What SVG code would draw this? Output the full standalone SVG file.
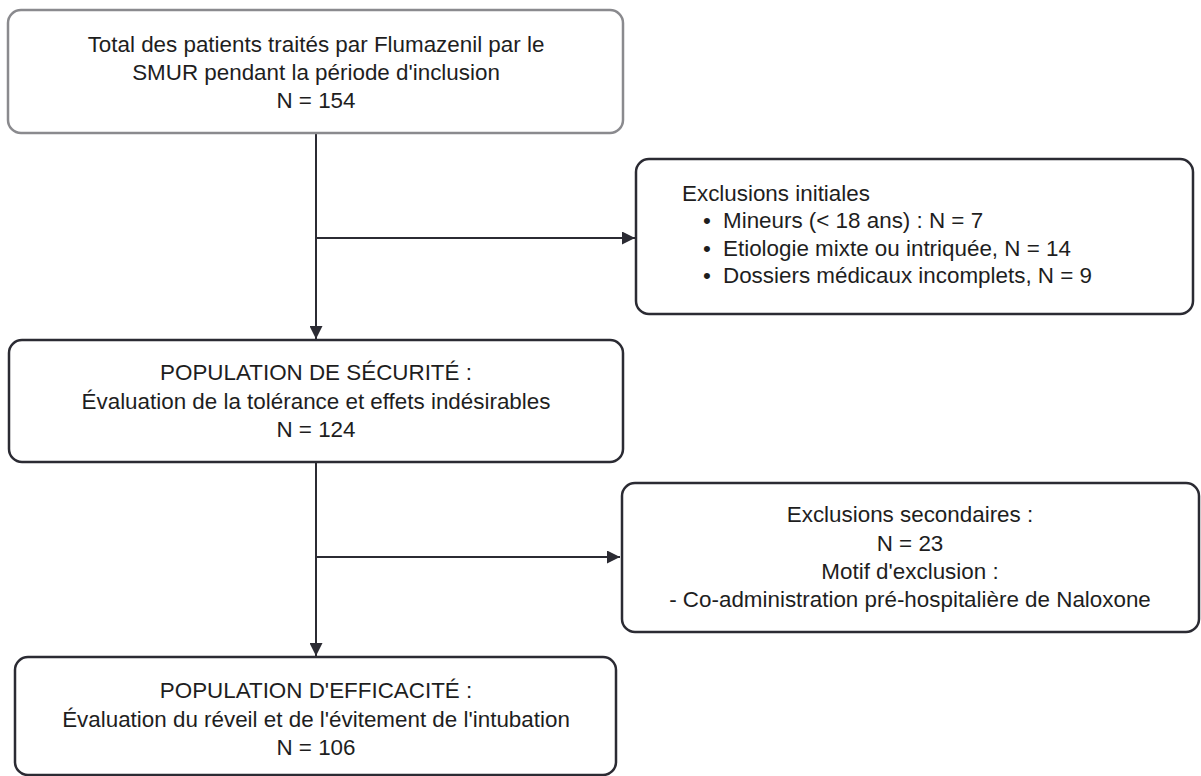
<svg xmlns="http://www.w3.org/2000/svg" width="1201" height="776" viewBox="0 0 1201 776">
<style>
.box{fill:#fff;stroke:#2b2b33;stroke-width:2.5}
.gray{stroke:#8a8a8e}
.t{font-family:"Liberation Sans",Arial,sans-serif;font-size:22.4px;fill:#1e1e1e}
.c{text-anchor:middle}
.line{stroke:#2b2b33;stroke-width:2;fill:none}
</style>
<defs>
<marker id="arr" viewBox="0 0 10 10" refX="10" refY="5" markerWidth="6.5" markerHeight="6.5" markerUnits="strokeWidth" orient="auto">
<path d="M0,0 L10,5 L0,10 z" fill="#2b2b33"/>
</marker>
</defs>
<rect width="1201" height="776" fill="#fff"/>
<g id="connectors">
<line class="line" x1="316" y1="134" x2="316" y2="339" marker-end="url(#arr)"/>
<line class="line" x1="316" y1="238" x2="635" y2="238" marker-end="url(#arr)"/>
<line class="line" x1="316" y1="463" x2="316" y2="656" marker-end="url(#arr)"/>
<line class="line" x1="316" y1="557" x2="620" y2="557" marker-end="url(#arr)"/>
</g>
<g id="n1">
<rect class="box gray" x="8" y="10" width="615" height="123" rx="13"/>
<text class="t c" x="316" y="52">Total des patients traités par Flumazenil par le</text>
<text class="t c" x="316" y="80">SMUR pendant la période d'inclusion</text>
<text class="t c" x="316" y="108">N = 154</text>
</g>
<g id="n2">
<rect class="box" x="636" y="159" width="557" height="155" rx="13"/>
<text class="t" x="682" y="201">Exclusions initiales</text>
<text class="t" x="703" y="228">•</text><text class="t" x="723" y="228">Mineurs (&lt; 18 ans) : N = 7</text>
<text class="t" x="703" y="256">•</text><text class="t" x="723" y="256">Etiologie mixte ou intriquée, N = 14</text>
<text class="t" x="703" y="283">•</text><text class="t" x="723" y="283">Dossiers médicaux incomplets, N = 9</text>
</g>
<g id="n3">
<rect class="box" x="9" y="340" width="614" height="122" rx="13"/>
<text class="t c" x="316" y="380">POPULATION DE SÉCURITÉ :</text>
<text class="t c" x="316" y="409">Évaluation de la tolérance et effets indésirables</text>
<text class="t c" x="316" y="437">N = 124</text>
</g>
<g id="n4">
<rect class="box" x="622" y="483" width="577" height="149" rx="13"/>
<text class="t c" x="910" y="522">Exclusions secondaires :</text>
<text class="t c" x="910" y="551">N = 23</text>
<text class="t c" x="910" y="579">Motif d'exclusion :</text>
<text class="t c" x="910" y="607">- Co-administration pré-hospitalière de Naloxone</text>
</g>
<g id="n5">
<rect class="box" x="15" y="657" width="601" height="118" rx="13"/>
<text class="t c" x="316" y="698">POPULATION D'EFFICACITÉ :</text>
<text class="t c" x="316" y="727">Évaluation du réveil et de l'évitement de l'intubation</text>
<text class="t c" x="316" y="755">N = 106</text>
</g>
</svg>
